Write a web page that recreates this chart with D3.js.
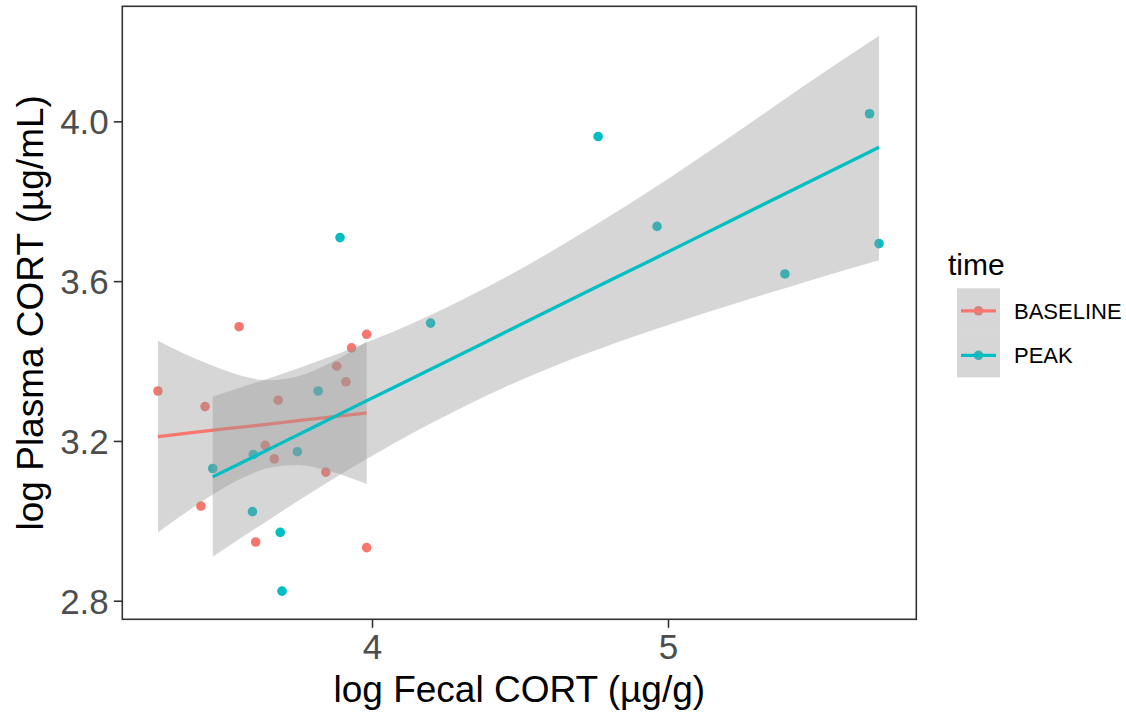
<!DOCTYPE html>
<html>
<head>
<meta charset="utf-8">
<script src="https://cdn.jsdelivr.net/npm/d3@7"></script>
<style>
  body { margin: 0; background: #fff; }
  svg text { font-family: "Liberation Sans", Arial, sans-serif; }
</style>
</head>
<body>
<div id="chart"></div>
<script>
/**
 * Data
 */
const baselineX = [3.277, 3.436, 3.551, 3.422, 3.607, 3.639, 3.670, 3.683, 3.844, 3.881, 3.912, 3.931, 3.982, 3.982],
    baselineY = [3.325, 3.286, 3.486, 3.037, 2.947, 3.189, 3.155, 3.302, 3.122, 3.387, 3.348, 3.433, 3.467, 2.933];
const peakX = [3.462, 3.596, 3.599, 3.690, 3.696, 3.748, 3.818, 3.892, 4.198, 4.764, 4.963, 5.395, 5.681, 5.713],
    peakY = [3.131, 3.023, 3.166, 2.971, 2.824, 3.173, 3.325, 3.709, 3.495, 3.962, 3.737, 3.618, 4.019, 3.694];

// fitted line + confidence band, read at a few x positions
const baselineFitX = [3.277, 3.35, 3.45, 3.55, 3.65, 3.75, 3.85, 3.982],
    baselineFit = [3.211, 3.217, 3.226, 3.234, 3.242, 3.251, 3.259, 3.270],
    baselineLower = [2.971, 3.010, 3.060, 3.103, 3.132, 3.140, 3.126, 3.092],
    baselineUpper = [3.451, 3.424, 3.392, 3.365, 3.352, 3.362, 3.392, 3.448];
const peakFitX = [3.462, 3.7, 3.95, 4.2, 4.45, 4.7, 4.95, 5.2, 5.45, 5.713],
    peakFit = [3.110, 3.197, 3.289, 3.380, 3.472, 3.564, 3.655, 3.747, 3.839, 3.935],
    peakLower = [2.910, 3.026, 3.141, 3.244, 3.335, 3.412, 3.478, 3.538, 3.595, 3.652],
    peakUpper = [3.311, 3.369, 3.437, 3.516, 3.609, 3.716, 3.832, 3.956, 4.084, 4.214];

const groups = ["BASELINE", "PEAK"],
    colors = ["#F8766D", "#00BFC4"];
const xTicks = [4, 5],
    yTicks = [2.8, 3.2, 3.6, 4.0];

/**
 * Constants
 */
const width = 1126, height = 715,
    panel = { left: 122.3, right: 916.3, top: 6.3, bottom: 619.3 },
    radius = 4.8,
    ribbonFill = "#999999", ribbonAlpha = 0.4;

const svg = d3.select("#chart")
    .append("svg")
    .attr("width", width)
    .attr("height", height);

// SCALES
const xScale = d3.scaleLinear()
    .domain([3.1564, 5.8389])
    .range([panel.left, panel.right]);
const yScale = d3.scaleLinear()
    .domain([2.7535, 4.288])
    .range([panel.bottom, panel.top]);
const color = d3.scaleOrdinal().domain(groups).range(colors);

// build the tables
const points = [
    ...baselineX.map((x, i) => ({ x, y: baselineY[i], g: "BASELINE" })),
    ...peakX.map((x, i) => ({ x, y: peakY[i], g: "PEAK" }))
];
const smooths = [
    { g: "BASELINE", rows: baselineFitX.map((x, i) => ({ x, fit: baselineFit[i], lo: baselineLower[i], hi: baselineUpper[i] })) },
    { g: "PEAK", rows: peakFitX.map((x, i) => ({ x, fit: peakFit[i], lo: peakLower[i], hi: peakUpper[i] })) }
];

const plot = svg.append("g");

// points go under the smoothers, as in the original
plot.selectAll("circle.dot")
    .data(points)
    .join("circle")
    .attr("class", "dot")
    .attr("cx", d => xScale(d.x))
    .attr("cy", d => yScale(d.y))
    .attr("r", radius)
    .attr("fill", d => color(d.g));

const area = d3.area()
    .curve(d3.curveMonotoneX)
    .x(d => xScale(d.x))
    .y0(d => yScale(d.lo))
    .y1(d => yScale(d.hi));
const line = d3.line()
    .curve(d3.curveMonotoneX)
    .x(d => xScale(d.x))
    .y(d => yScale(d.fit));

smooths.forEach(s => {
    plot.append("path")
        .datum(s.rows)
        .attr("d", area)
        .attr("fill", ribbonFill)
        .attr("fill-opacity", ribbonAlpha);
    plot.append("path")
        .datum(s.rows)
        .attr("d", line)
        .attr("fill", "none")
        .attr("stroke", color(s.g))
        .attr("stroke-width", 3.3);
});

// panel border
svg.append("rect")
    .attr("x", panel.left)
    .attr("y", panel.top)
    .attr("width", panel.right - panel.left)
    .attr("height", panel.bottom - panel.top)
    .attr("fill", "none")
    .attr("stroke", "#333333")
    .attr("stroke-width", 1.6);

// AXES
const xAxis = svg.append("g")
    .attr("transform", `translate(0,${panel.bottom})`)
    .call(d3.axisBottom(xScale).tickValues(xTicks).tickFormat(d3.format("d")).tickSize(8.5).tickPadding(6));
const yAxis = svg.append("g")
    .attr("transform", `translate(${panel.left},0)`)
    .call(d3.axisLeft(yScale).tickValues(yTicks).tickFormat(d3.format(".1f")).tickSize(8.5).tickPadding(5));

[xAxis, yAxis].forEach(ax => {
    ax.select(".domain").remove();
    ax.selectAll(".tick line").attr("stroke", "#333333").attr("stroke-width", 1.6);
    ax.selectAll(".tick text")
        .attr("fill", "#4D4D4D")
        .style("font-size", "35px");
});
yAxis.selectAll(".tick text").attr("dy", "0.36em");

// axis titles
svg.append("text")
    .attr("x", (panel.left + panel.right) / 2)
    .attr("y", 702)
    .attr("text-anchor", "middle")
    .style("font-size", "37px")
    .text("log Fecal CORT (µg/g)");

svg.append("text")
    .attr("transform", `translate(43,${(panel.top + panel.bottom) / 2}) rotate(-90)`)
    .attr("text-anchor", "middle")
    .style("font-size", "37px")
    .text("log Plasma CORT (µg/mL)");

// LEGEND
const legend = svg.append("g").attr("transform", "translate(948,0)");
legend.append("text")
    .attr("x", 0)
    .attr("y", 275)
    .style("font-size", "30px")
    .text("time");

const keys = legend.selectAll("g.key")
    .data(groups)
    .join("g")
    .attr("class", "key")
    .attr("transform", (d, i) => `translate(9,${288.3 + i * 44.5})`);
keys.append("circle")
    .attr("cx", 21.5)
    .attr("cy", 22.5)
    .attr("r", radius)
    .attr("fill", d => color(d));
keys.append("rect")
    .attr("width", 43)
    .attr("height", 44.5)
    .attr("fill", ribbonFill)
    .attr("fill-opacity", ribbonAlpha);
keys.append("line")
    .attr("x1", 4)
    .attr("x2", 39)
    .attr("y1", 22.5)
    .attr("y2", 22.5)
    .attr("stroke", d => color(d))
    .attr("stroke-width", 3.3);
keys.append("text")
    .attr("x", 57)
    .attr("y", 22.5)
    .attr("dy", "0.36em")
    .style("font-size", "22px")
    .text(d => d);
</script>
</body>
</html>
